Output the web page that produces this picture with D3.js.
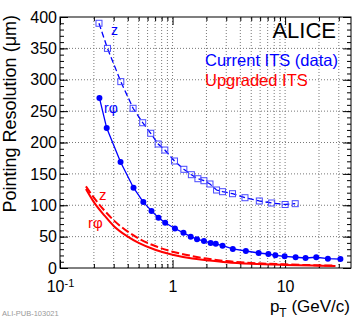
<!DOCTYPE html>
<html>
<head>
<meta charset="utf-8">
<script src="https://cdn.jsdelivr.net/npm/d3@7"></script>
<style>
  body { margin: 0; background: #fff; }
  text { font-family: "Liberation Sans", Arial, sans-serif; }
</style>
</head>
<body>
<script>
'use strict';

// current ITS (data), r-phi
const curRphiPt = [0.224, 0.26, 0.345, 0.45, 0.55, 0.65, 0.75, 0.86, 1.05, 1.25, 1.45, 1.65, 1.9, 2.18, 2.42, 2.78, 3.43, 4.48, 5.82, 7.1, 8.2, 9.9, 12.4, 15.2, 18.9, 24, 31];
const curRphiVal = [271, 223, 169, 128, 105, 91, 80, 72, 63, 56, 50, 46, 43, 40, 38.5, 35.5, 30.3, 27.1, 23.9, 22.3, 20.2, 18.6, 17.1, 15.9, 17.1, 14.8, 14.3];

// current ITS (data), z
const curZPt = [0.222, 0.264, 0.347, 0.446, 0.543, 0.64, 0.745, 0.854, 1.04, 1.26, 1.47, 1.68, 1.9, 2.15, 2.46, 2.78, 3.41, 4.4, 5.9, 7.6, 10, 12.3];
const curZVal = [390, 350, 297, 254.5, 231.5, 214.7, 197.6, 188, 170.5, 157.3, 148.7, 142.3, 139.1, 133.9, 124.3, 121.6, 118.4, 112, 106.8, 103.6, 101.2, 102.5];

// upgraded ITS
const upgPt = [0.17, 0.2, 0.25, 0.3, 0.4, 0.5, 0.7, 1, 1.5, 2, 3, 5, 10, 20, 28];
const upgRphi = [126, 105, 83, 67, 50, 40, 29, 21, 15, 12.5, 9.3, 6.8, 4.9, 3.7, 3.2];
const upgZ = [130, 112, 91, 76, 58, 47, 35, 26, 19, 15, 11, 8, 5.8, 4.3, 3.7];

const xMajor = [0.1, 1, 10];
const xMinor = [0.2, 0.3, 0.4, 0.5, 0.6, 0.7, 0.8, 0.9, 2, 3, 4, 5, 6, 7, 8, 9, 20, 30];
const yMajor = [0, 50, 100, 150, 200, 250, 300, 350, 400];
const yMinor = d3.range(0, 401, 10);

const width = 361;
const height = 320;
const blue = "#0000ff";
const red = "#ff0000";

const svg = d3.select('body').append('svg')
  .attr('width', width)
  .attr('height', height);

const x = d3.scaleLog().domain([0.1, 38.5]).range([60, 351]);
const y = d3.scaleLinear().domain([0, 400]).range([268, 17]);

// grid
svg.append('g').selectAll('line')
  .data(xMinor.concat([1, 10]))
  .enter().append('line')
  .attr('x1', d => x(d)).attr('x2', d => x(d))
  .attr('y1', y(0)).attr('y2', y(400))
  .attr('stroke', '#777').attr('stroke-dasharray', '1,2');
svg.append('g').selectAll('line')
  .data(yMajor.slice(1, -1))
  .enter().append('line')
  .attr('x1', x(0.1)).attr('x2', x(38.5))
  .attr('y1', d => y(d)).attr('y2', d => y(d))
  .attr('stroke', '#777').attr('stroke-dasharray', '1,2');

// axes (ticks pointing inside, like ROOT)
const axBottom = svg.append('g')
  .attr('transform', 'translate(0,' + y(0) + ')')
  .call(d3.axisBottom(x).tickValues(xMajor).tickSizeInner(-8).tickSizeOuter(0).tickPadding(13)
    .tickFormat(d => d === 0.1 ? '10' : d3.format('d')(d)));
axBottom.append('g').call(d3.axisBottom(x).tickValues(xMinor).tickSizeInner(-4).tickSizeOuter(0).tickFormat(''));
axBottom.selectAll('text').attr('font-size', 16).attr('fill', '#000').attr('font-family', '"Liberation Sans", Arial, sans-serif');
axBottom.selectAll('.tick text').filter(d => d === 0.1)
  .append('tspan').attr('dy', '-0.45em').attr('font-size', 11).text('-1');

const axTop = svg.append('g')
  .attr('transform', 'translate(0,' + y(400) + ')')
  .call(d3.axisTop(x).tickValues(xMajor).tickSizeInner(-8).tickSizeOuter(0).tickFormat(''));
axTop.append('g').call(d3.axisTop(x).tickValues(xMinor).tickSizeInner(-4).tickSizeOuter(0).tickFormat(''));

const axLeft = svg.append('g')
  .attr('transform', 'translate(' + x(0.1) + ',0)')
  .call(d3.axisLeft(y).tickValues(yMajor).tickSizeInner(-8).tickSizeOuter(0).tickPadding(3));
axLeft.append('g').call(d3.axisLeft(y).tickValues(yMinor).tickSizeInner(-4).tickSizeOuter(0).tickFormat(''));
axLeft.selectAll('text').attr('font-size', 16).attr('fill', '#000').attr('font-family', '"Liberation Sans", Arial, sans-serif');

const axRight = svg.append('g')
  .attr('transform', 'translate(' + x(38.5) + ',0)')
  .call(d3.axisRight(y).tickValues(yMajor).tickSizeInner(-8).tickSizeOuter(0).tickFormat(''));
axRight.append('g').call(d3.axisRight(y).tickValues(yMinor).tickSizeInner(-4).tickSizeOuter(0).tickFormat(''));

svg.selectAll('.domain').remove();
svg.append('rect')
  .attr('x', x(0.1)).attr('y', y(400))
  .attr('width', x(38.5) - x(0.1)).attr('height', y(0) - y(400))
  .attr('fill', 'none').attr('stroke', '#000');

// upgraded ITS curves
const smooth = d3.line().x(d => x(d[0])).y(d => y(d[1])).curve(d3.curveMonotoneX);
svg.append('path')
  .datum(d3.zip(upgPt, upgZ))
  .attr('d', smooth)
  .attr('fill', 'none').attr('stroke', red).attr('stroke-width', 2)
  .attr('stroke-dasharray', '8,3');
svg.append('path')
  .datum(d3.zip(upgPt, upgRphi))
  .attr('d', smooth)
  .attr('fill', 'none').attr('stroke', red).attr('stroke-width', 2);

// current ITS data
const line = d3.line().x(d => x(d[0])).y(d => y(d[1]));
const zData = d3.zip(curZPt, curZVal);
const rData = d3.zip(curRphiPt, curRphiVal);

svg.append('path')
  .datum(zData)
  .attr('d', line)
  .attr('fill', 'none').attr('stroke', blue).attr('stroke-width', 1.3)
  .attr('stroke-dasharray', '6,3');
svg.selectAll('.sq')
  .data(zData)
  .enter().append('rect')
  .attr('x', d => x(d[0]) - 3).attr('y', d => y(d[1]) - 3)
  .attr('width', 6).attr('height', 6)
  .attr('fill', 'none').attr('stroke', '#4a4aff');

svg.append('path')
  .datum(rData)
  .attr('d', line)
  .attr('fill', 'none').attr('stroke', blue).attr('stroke-width', 1.3);
svg.selectAll('.dot')
  .data(rData)
  .enter().append('circle')
  .attr('cx', d => x(d[0])).attr('cy', d => y(d[1]))
  .attr('r', 3).attr('fill', blue);

// labels
svg.append('text').attr('x', 111).attr('y', 35).attr('font-size', 14).attr('fill', blue).text('z');
svg.append('text').attr('x', 104).attr('y', 113).attr('font-size', 14).attr('fill', blue).text('rφ');
svg.append('text').attr('x', 99).attr('y', 200).attr('font-size', 15).attr('fill', red).text('z');
svg.append('text').attr('x', 88).attr('y', 228).attr('font-size', 15).attr('fill', red).text('rφ');

svg.append('text').attr('x', 336).attr('y', 38).attr('text-anchor', 'end')
  .attr('font-size', 22).text('ALICE');
svg.append('text').attr('x', 205).attr('y', 66).attr('font-size', 16.5).attr('fill', blue).text('Current ITS (data)');
svg.append('text').attr('x', 205).attr('y', 86).attr('font-size', 16.5).attr('fill', red).text('Upgraded ITS');

svg.append('text')
  .attr('transform', 'translate(16,15)rotate(-90)')
  .attr('text-anchor', 'end')
  .attr('font-size', 18)
  .text('Pointing Resolution (μm)');

const xt = svg.append('text')
  .attr('x', 350).attr('y', 312)
  .attr('text-anchor', 'end')
  .attr('font-size', 17);
xt.append('tspan').text('p');
xt.append('tspan').attr('dy', 5).attr('font-size', 12).text('T');
xt.append('tspan').attr('dy', -5).text(' (GeV/c)');

svg.append('text')
  .attr('x', 2).attr('y', 316)
  .attr('font-size', 7.5)
  .attr('font-family', '"DejaVu Sans Mono", monospace')
  .attr('fill', '#999')
  .text('ALI-PUB-103021');
</script>
</body>
</html>
